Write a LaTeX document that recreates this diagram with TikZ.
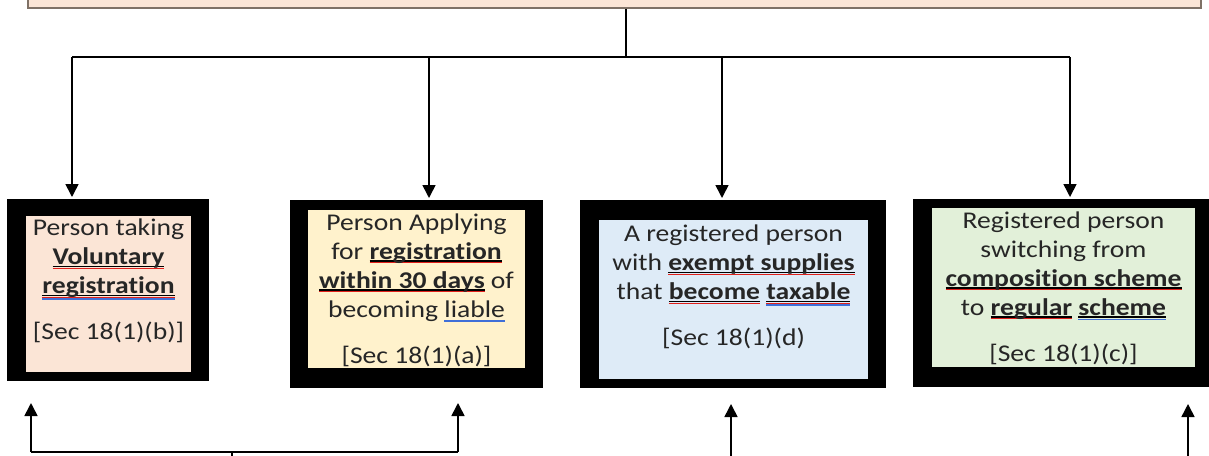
\documentclass[tikz,border=0pt]{standalone}
\usepackage{fontspec}
\setmainfont{Carlito}[FakeStretch=1.15, Ligatures=NoCommon]
\usetikzlibrary{arrows.meta}
\definecolor{peach}{HTML}{FBE5D6}
\definecolor{cream}{HTML}{FFF2CC}
\definecolor{lblue}{HTML}{DEEBF7}
\definecolor{lgreen}{HTML}{E2F0D9}
\definecolor{topborder}{HTML}{7F7166}
\definecolor{txt}{HTML}{262626}
\definecolor{sqred}{HTML}{E0201B}
\definecolor{sqblue}{HTML}{3F6FD8}
\newlength\ulw
\newcommand\ulR[1]{\settowidth\ulw{#1}\rlap{\color{black}\rule[-2.6pt]{\ulw}{1.3pt}}\rlap{\color{sqred}\rule[-4.3pt]{\ulw}{1.1pt}}#1}
\newcommand\ulBk[1]{\settowidth\ulw{#1}\rlap{\color{black}\rule[-2.6pt]{\ulw}{1.3pt}}\rlap{\color{sqblue}\rule[-5.2pt]{\ulw}{1.8pt}}#1}
\newcommand\ulRB[1]{\settowidth\ulw{#1}\rlap{\color{black}\rule[-2.6pt]{\ulw}{1.3pt}}\rlap{\color{sqred}\rule[-4.3pt]{\ulw}{1.1pt}}\rlap{\color{sqblue}\rule[-6.4pt]{\ulw}{1.8pt}}#1}
\newcommand\ulBl[1]{\settowidth\ulw{#1}\rlap{\color{sqblue}\rule[-3.4pt]{\ulw}{0.9pt}}\rlap{\color{sqblue}\rule[-5.0pt]{\ulw}{0.9pt}}#1}
\begin{document}
\begin{tikzpicture}[x=1pt,y=-1pt,
  frame/.style={fill=black, draw=none, anchor=north west, inner sep=0pt},
  panel/.style={draw=none, anchor=north west, inner sep=0pt},
  lbl/.style={align=center, text=txt, font=\fontsize{24}{29}\selectfont, inner sep=0pt},
  conn/.style={line width=1.6pt, draw=black},
  arr/.style={conn, -{Triangle[width=13pt,length=13pt]}}]
\useasboundingbox (0,0) rectangle (1209,455);
\clip (0,0) rectangle (1209,455);
% top box
\node[panel, fill=peach, draw=topborder, line width=1.5pt, minimum width=1173pt, minimum height=50pt] (top) at (27,-43) {};
% boxes
\node[frame, minimum width=202pt, minimum height=182pt] (o1) at (7,199) {};
\node[panel, fill=peach, minimum width=165pt, minimum height=156pt] (p1) at (26,216) {};
\node[frame, minimum width=253pt, minimum height=188pt] (o2) at (290,200) {};
\node[panel, fill=cream, minimum width=217pt, minimum height=158pt] (p2) at (308,210) {};
\node[frame, minimum width=306pt, minimum height=188pt] (o3) at (580,200) {};
\node[panel, fill=lblue, minimum width=269pt, minimum height=159pt] (p3) at (599,220) {};
\node[frame, minimum width=299pt, minimum height=188pt] (o4) at (913,199) {};
\node[panel, fill=lgreen, minimum width=263pt, minimum height=159pt] (p4) at (932,208) {};
% texts
\node[lbl] (t1) at (108.5,281) {Person taking\\ \ulR{\textbf{Voluntary}}\\ \ulRB{\textbf{registration}}\\[17pt] [Sec 18(1)(b)]};
\node[lbl] (t2) at (416.5,290) {Person Applying\\ for \ulR{\textbf{registration}}\\ \ulR{\textbf{within 30 days}} of\\ becoming \ulBl{liable}\\[17pt] [Sec 18(1)(a)]};
\node[lbl] (t3) at (733.5,287) {A registered person\\ with \ulR{\textbf{exempt supplies}}\\ that \ulR{\textbf{become}} \ulRB{\textbf{taxable}}\\[17pt] [Sec 18(1)(d)};
\node[lbl] (t4) at (1063.5,288) {Registered person\\ switching from\\ \ulR{\textbf{composition scheme}}\\ to \ulR{\textbf{regular}} \ulBk{\textbf{scheme}}\\[17pt] [Sec 18(1)(c)]};
% top connectors
\coordinate (hub) at (626,57);
\coordinate (j1) at (72,57);
\coordinate (j2) at (429,57);
\coordinate (j3) at (722,57);
\coordinate (j4) at (1070,57);
\draw[conn] (top.south -| hub) -- (hub);
\draw[conn] (j1) -- (j4);
\draw[arr, shorten >=2pt] (j1) -- (j1 |- o1.north);
\draw[arr, shorten >=2pt] (j2) -- (j2 |- o2.north);
\draw[arr, shorten >=2pt] (j3) -- (j3 |- o3.north);
\draw[arr, shorten >=2pt] (j4) -- (j4 |- o4.north);
% bottom connectors
\coordinate (bL) at (31,452);
\coordinate (bR) at (458,452);
\coordinate (bt) at (232,452);
\coordinate (bt2) at (232,457);
\coordinate (a1) at (31,403);
\coordinate (a2) at (458,403);
\coordinate (s3) at (731,457);
\coordinate (a3) at (731,404);
\coordinate (s4) at (1188,457);
\coordinate (a4) at (1188,404);
\draw[conn] (bt) -- (bt2);
\draw[arr] (bL) -- (a1);
\draw[arr] (bR) -- (a2);
\draw[conn] (bL) -- (bR);
\draw[arr] (s3) -- (a3);
\draw[arr] (s4) -- (a4);
\end{tikzpicture}
\end{document}
